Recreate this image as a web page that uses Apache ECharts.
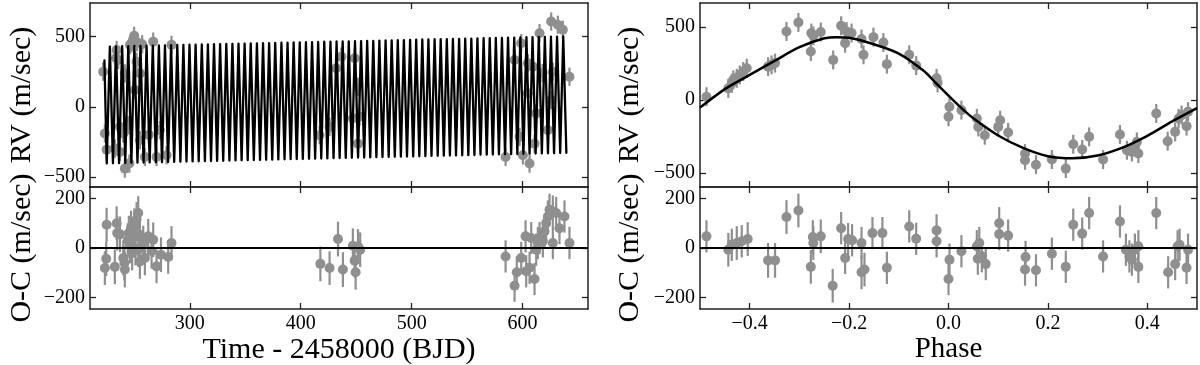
<!DOCTYPE html>
<html>
<head>
<meta charset="utf-8">
<title>RV fit</title>
<script src="https://cdn.jsdelivr.net/npm/echarts@6/dist/echarts.min.js"></script>
<style>
  html, body { margin: 0; padding: 0; background: #fff; }
  #main { width: 1200px; height: 365px; }
</style>
</head>
<body>
<div id="main"></div>
<script>
// ---- data ----
// RV vs time: [t, rv, err]
var rvTime = [
  [221.9, 250, 65], [223.4, -190, 65], [225.0, -305, 65], [232.4, -297, 65], [233.5, 348, 65],
  [234.0, 405, 65], [235.4, 333, 65], [237.0, -143, 65], [237.0, -321, 65], [240.0, -190, 65],
  [241.4, 238, 65], [241.4, -440, 65], [244.4, -131, 65], [245.5, -404, 65], [246.0, 440, 65],
  [247.5, 453, 65], [248.5, 470, 65], [249.8, 505, 65], [250.5, 119, 65], [252.0, 321, 65],
  [252.5, 460, 65], [255.0, 238, 65], [255.0, -238, 65], [257.0, 445, 65], [259.5, -357, 65],
  [263.0, -200, 65], [267.0, 464, 65], [270.0, -357, 65], [273.0, -166, 65], [279.0, -345, 65],
  [283.5, 441, 65],
  [417.0, -202, 65], [426.0, -143, 65], [432.0, 274, 65], [436.6, 357, 65], [447.0, -83, 65],
  [448.6, 346, 65], [451.6, 143, 65], [451.6, -262, 65], [453.0, -71, 65],
  [584.7, -357, 65], [592.8, 333, 65], [597.3, -214, 65], [598.8, 453, 65], [600.3, -345, 65],
  [604.8, 310, 65], [604.8, 96, 65], [606.3, -404, 65], [609.3, 286, 65], [610.8, -262, 65],
  [612.3, -47, 65], [615.3, 524, 65], [618.0, 240, 65], [622.8, -166, 65], [625.8, 48, 65],
  [625.8, 607, 65], [627.3, 250, 65], [631.8, 584, 65], [636.3, 548, 65], [642.3, 214, 65]
];
// O-C vs time: [t, res, err]
var ocTime = [
  [223.4, -81, 68], [224.6, -43, 70], [225.0, 94, 68], [232.4, -76, 70], [234.0, 100, 68],
  [234.5, 60, 70], [237.0, 55, 72], [240.0, -40, 70], [241.0, -60, 70], [241.4, -87, 72],
  [244.0, 30, 70], [245.0, 60, 70], [246.0, 10, 72], [247.0, 80, 70], [248.0, -20, 70],
  [249.0, 40, 72], [250.0, 90, 70], [251.0, 0, 70], [252.0, 115, 70], [253.5, 141, 68],
  [253.5, -7, 70], [255.0, 53, 70], [255.0, -54, 70], [258.0, 20, 70], [259.5, -40, 70],
  [262.5, 47, 70], [265.5, -13, 70], [267.0, 33, 70], [270.0, -74, 68], [274.0, -27, 70],
  [280.5, -36, 68], [283.5, 20, 68],
  [417.7, -64, 70], [426.0, -81, 68], [433.6, 36, 70], [438.0, -87, 70], [447.0, 9, 70],
  [448.6, -51, 68], [449.5, -98, 70], [451.6, 6, 70], [453.6, -7, 70],
  [584.7, -34, 65], [592.8, -152, 65], [594.8, -98, 65], [598.8, -40, 65], [602.7, 47, 65],
  [603.3, -94, 65], [606.3, -80, 65], [607.8, 40, 65], [610.8, -125, 65], [612.3, -7, 65],
  [613.8, 20, 65], [615.3, 40, 65], [618.3, 27, 65], [619.8, 67, 65], [621.3, 101, 65],
  [622.8, 127, 65], [624.3, 154, 65], [627.3, 147, 65], [627.3, 20, 65], [630.3, 141, 65],
  [633.3, 80, 65], [637.8, 127, 65], [642.3, 20, 65]
];
// model vs time: starting point, peaks and troughs
var modelStart = [223.0, 330];
var peakT = [227.9, 233.4, 239.0, 244.5, 250.0, 255.5, 261.0, 266.6, 272.1, 277.6,
  283.1, 288.7, 294.2, 299.7, 305.2, 310.8, 316.3, 321.8, 327.3, 332.9,
  338.4, 343.9, 349.4, 354.9, 360.5, 366.0, 371.5, 377.0, 382.6, 388.1,
  393.6, 399.1, 404.7, 410.2, 415.7, 421.2, 426.8, 432.3, 437.8, 443.3,
  448.9, 454.4, 459.9, 465.4, 470.9, 476.5, 482.0, 487.5, 493.0, 498.6,
  504.1, 509.6, 515.1, 520.7, 526.2, 531.7, 537.2, 542.8, 548.3, 553.8,
  559.3, 564.9, 570.4, 575.9, 581.4, 586.9, 592.5, 598.0, 603.5, 609.0,
  614.6, 620.1, 625.6, 631.1, 636.7];
var peakRV = [429, 430, 431, 432, 433, 434, 435, 436, 437, 438,
  439, 440, 441, 442, 443, 444, 445, 446, 446, 447,
  448, 449, 450, 451, 452, 453, 454, 455, 456, 457,
  458, 459, 460, 461, 462, 463, 464, 465, 465, 466,
  467, 468, 469, 470, 471, 472, 473, 474, 475, 476,
  478, 479, 480, 481, 482, 482, 483, 484, 485, 486,
  487, 488, 489, 490, 491, 492, 493, 494, 495, 496,
  497, 498, 499, 500, 501];
var troughT = [225.1, 230.7, 236.2, 241.8, 247.3, 252.8, 258.3, 263.8, 269.4, 274.9,
  280.4, 285.9, 291.5, 297.0, 302.5, 308.0, 313.6, 319.1, 324.6, 330.1,
  335.7, 341.2, 346.7, 352.2, 357.7, 363.3, 368.8, 374.3, 379.8, 385.4,
  390.9, 396.4, 401.9, 407.5, 413.0, 418.5, 424.0, 429.6, 435.1, 440.6,
  446.1, 451.7, 457.2, 462.7, 468.2, 473.7, 479.3, 484.8, 490.3, 495.8,
  501.4, 506.9, 512.4, 517.9, 523.5, 529.0, 534.5, 540.0, 545.6, 551.1,
  556.6, 562.1, 567.7, 573.2, 578.7, 584.2, 589.7, 595.3, 600.8, 606.3,
  611.8, 617.4, 622.9, 628.4, 633.9, 639.5];
var troughRV = [-403, -402, -401, -400, -399, -398, -397, -396, -395, -394,
  -393, -392, -391, -390, -389, -388, -387, -386, -385, -384,
  -383, -382, -381, -380, -379, -378, -377, -376, -375, -374,
  -373, -372, -371, -370, -369, -368, -367, -366, -365, -364,
  -363, -362, -361, -360, -359, -358, -357, -356, -355, -354,
  -353, -352, -351, -350, -349, -348, -347, -346, -345, -344,
  -343, -342, -341, -340, -339, -338, -337, -336, -335, -334,
  -333, -332, -331, -330, -329, -328];

// RV vs phase: [phase, rv, err]
var rvPhase = [
  [-0.487, 23, 65], [-0.443, 80, 65], [-0.436, 115, 65], [-0.433, 138, 65], [-0.426, 149, 65],
  [-0.420, 172, 65], [-0.413, 195, 65], [-0.406, 218, 65], [-0.363, 229, 65], [-0.356, 241, 65],
  [-0.349, 253, 65], [-0.326, 470, 65], [-0.302, 532, 65], [-0.277, 333, 65], [-0.276, 459, 65],
  [-0.272, 440, 65], [-0.257, 466, 65], [-0.232, 275, 65], [-0.216, 509, 65], [-0.208, 390, 65],
  [-0.205, 470, 65], [-0.195, 459, 65], [-0.175, 418, 65], [-0.171, 310, 65], [-0.151, 431, 65],
  [-0.131, 394, 65], [-0.124, 246, 65], [-0.079, 310, 65], [-0.065, 236, 65], [-0.024, 149, 65],
  [-0.022, 118, 65], [0.002, -46, 65], [0.000, -115, 65], [0.026, -69, 65], [0.057, -126, 65],
  [0.060, -184, 65], [0.073, -241, 65], [0.104, -138, 65], [0.100, -184, 65], [0.120, -222, 65],
  [0.154, -367, 65], [0.154, -413, 65], [0.176, -443, 65], [0.208, -408, 65], [0.236, -470, 65],
  [0.251, -303, 65], [0.269, -339, 65], [0.283, -252, 65], [0.311, -408, 65], [0.345, -236, 65],
  [0.359, -344, 65], [0.369, -356, 65], [0.375, -321, 65], [0.382, -367, 65], [0.379, -287, 65],
  [0.418, -92, 65], [0.441, -282, 65], [0.456, -218, 65], [0.463, -126, 65], [0.479, -179, 65],
  [0.482, -80, 65], [0.469, -103, 65]
];
// O-C vs phase: [phase, res, err]
var ocPhase = [
  [-0.487, 47, 65], [-0.443, -7, 68], [-0.436, 13, 65], [-0.426, 20, 68], [-0.416, 27, 65],
  [-0.404, 36, 68], [-0.363, -50, 70], [-0.349, -50, 70], [-0.326, 125, 68], [-0.302, 151, 68],
  [-0.277, -76, 68], [-0.273, 44, 68], [-0.272, 20, 68], [-0.257, 47, 68], [-0.233, -152, 68],
  [-0.216, 80, 65], [-0.208, -40, 65], [-0.202, 36, 65], [-0.194, 31, 65], [-0.175, 20, 65],
  [-0.175, -98, 68], [-0.169, -87, 68], [-0.153, 60, 65], [-0.133, 60, 65], [-0.124, -80, 65],
  [-0.079, 87, 65], [-0.065, 37, 65], [-0.024, 71, 65], [-0.024, 27, 65], [0.002, -47, 65],
  [0.000, -125, 65], [0.026, -13, 65], [0.057, 7, 65], [0.062, 20, 65], [0.059, -43, 65],
  [0.067, -33, 65], [0.075, -65, 65], [0.102, 100, 65], [0.102, 56, 65], [0.120, 50, 65],
  [0.155, -36, 65], [0.154, -87, 65], [0.176, -90, 65], [0.208, -23, 65], [0.236, -76, 65],
  [0.251, 94, 65], [0.269, 58, 65], [0.283, 141, 65], [0.311, -34, 65], [0.345, 107, 65],
  [0.357, -7, 65], [0.364, -34, 65], [0.369, -47, 65], [0.375, -7, 65], [0.382, 7, 65],
  [0.382, -76, 65], [0.418, 141, 65], [0.442, -98, 65], [0.456, -65, 65], [0.461, 7, 65],
  [0.465, 13, 65], [0.479, -80, 65], [0.482, -7, 65]
];
// model vs phase
var phaseModelX = [-0.5, -0.45, -0.4, -0.35, -0.3, -0.25, -0.225, -0.2, -0.15, -0.1, -0.05, -0.025,
  0, 0.025, 0.05, 0.1, 0.15, 0.2, 0.25, 0.3, 0.35, 0.4, 0.45, 0.5];
var phaseModelY = [-52, 75, 172, 268, 362, 423, 431, 427, 382, 318, 200, 115,
  30, -52, -125, -243, -328, -385, -399, -380, -326, -245, -146, -55];

// tick labels
var timeTicks = [300, 400, 500, 600];
var rvTicks = [-500, 0, 500];
var ocTicks = [-200, 0, 200];
var phaseTicks = [-0.4, -0.2, 0, 0.2, 0.4];

// ---- build ----
var FONT = "'Liberation Serif', 'DejaVu Serif', serif";
var GRAY = '#8f8f8f';
var FRAME = '#222';

var timeModel = [modelStart];
var modelPts = [];
for (var i = 0; i < peakT.length; i++) modelPts.push([peakT[i], peakRV[i]]);
for (var j = 0; j < troughT.length; j++) modelPts.push([troughT[j], troughRV[j]]);
modelPts.sort(function(a, b) { return a[0] - b[0]; });
timeModel = timeModel.concat(modelPts);

var phaseModel = [];
for (var k = 0; k < phaseModelX.length; k++) phaseModel.push([phaseModelX[k], phaseModelY[k]]);

function minusSign(s) { return String(s).replace('-', '\u2212'); }

function xAx(grid, pos, min, max, ticks, label, name, fmt, nameSize) {
  return {
    type: 'value', gridIndex: grid, position: pos, min: min, max: max,
    name: name || '', nameLocation: 'middle', nameGap: 26,
    nameTextStyle: { fontFamily: FONT, fontSize: nameSize || 29, color: '#000' },
    axisLine: { show: true, onZero: false, lineStyle: { color: FRAME, width: 1.5 } },
    axisTick: { show: true, inside: true, length: 6, customValues: ticks, lineStyle: { color: FRAME, width: 1.3 } },
    axisLabel: { show: label, customValues: ticks, margin: 5, fontFamily: FONT, fontSize: 20, color: '#000',
      formatter: fmt },
    splitLine: { show: false }
  };
}
function yAx(grid, pos, min, max, ticks, label, name, gap) {
  return {
    type: 'value', gridIndex: grid, position: pos, min: min, max: max,
    name: name || '', nameLocation: 'middle', nameGap: gap || 50,
    nameTextStyle: { fontFamily: FONT, fontSize: 30, color: '#000' },
    axisLine: { show: true, onZero: false, lineStyle: { color: FRAME, width: 1.5 } },
    axisTick: { show: true, inside: true, length: 6, customValues: ticks, lineStyle: { color: FRAME, width: 1.3 } },
    axisLabel: { show: label, customValues: ticks, margin: 5, fontFamily: FONT, fontSize: 20, color: '#000',
      formatter: function(v) { return minusSign(v); } },
    splitLine: { show: false }
  };
}

function errorBars(points, xi, yi) {
  return {
    type: 'custom', xAxisIndex: xi, yAxisIndex: yi, z: 2, silent: true, clip: true,
    data: points,
    encode: { x: 0, y: 1 },
    renderItem: function(params, api) {
      var lo = api.coord([api.value(0), api.value(1) - api.value(2)]);
      var hi = api.coord([api.value(0), api.value(1) + api.value(2)]);
      return { type: 'line', shape: { x1: lo[0], y1: lo[1], x2: hi[0], y2: hi[1] },
        style: { stroke: GRAY, lineWidth: 2.2 } };
    }
  };
}
function dots(points, xi, yi, zero) {
  var s = {
    type: 'scatter', xAxisIndex: xi, yAxisIndex: yi, z: 3, silent: true,
    data: points.map(function(p) { return [p[0], p[1]]; }),
    symbol: 'circle', symbolSize: 10,
    itemStyle: { color: GRAY, opacity: 1 }
  };
  if (zero) {
    s.markLine = { silent: true, symbol: 'none', label: { show: false },
      lineStyle: { color: '#000', width: 1.8, type: 'solid' },
      data: [{ yAxis: 0 }] };
  }
  return s;
}

var timeFmt = function(v) { return String(v); };
var phaseFmt = function(v) { return minusSign(v.toFixed(1)); };

var option = {
  animation: false,
  backgroundColor: '#fff',
  grid: [
    { left: 90, width: 498, top: 3, height: 184, outerBoundsMode: 'none', containLabel: false },
    { left: 90, width: 498, top: 187, height: 122, outerBoundsMode: 'none', containLabel: false },
    { left: 700, width: 497, top: 3, height: 184, outerBoundsMode: 'none', containLabel: false },
    { left: 700, width: 497, top: 187, height: 122, outerBoundsMode: 'none', containLabel: false }
  ],
  xAxis: [
    xAx(0, 'bottom', 210, 659, timeTicks, false),
    xAx(0, 'top', 210, 659, timeTicks, false),
    xAx(1, 'bottom', 210, 659, timeTicks, true, 'Time - 2458000 (BJD)', timeFmt, 30),
    xAx(1, 'top', 210, 659, timeTicks, false),
    xAx(2, 'bottom', -0.5, 0.5, phaseTicks, false),
    xAx(2, 'top', -0.5, 0.5, phaseTicks, false),
    xAx(3, 'bottom', -0.5, 0.5, phaseTicks, true, 'Phase', phaseFmt, 29),
    xAx(3, 'top', -0.5, 0.5, phaseTicks, false)
  ],
  yAxis: [
    yAx(0, 'left', -571, 739, rvTicks, true, 'RV (m/sec)', 53),
    yAx(0, 'right', -571, 739, rvTicks, false),
    yAx(1, 'left', -246, 246, ocTicks, true, 'O-C (m/sec)', 53),
    yAx(1, 'right', -246, 246, ocTicks, false),
    yAx(2, 'left', -596, 665, rvTicks, true, 'RV (m/sec)', 55),
    yAx(2, 'right', -596, 665, rvTicks, false),
    yAx(3, 'left', -246, 246, ocTicks, true, 'O-C (m/sec)', 55),
    yAx(3, 'right', -246, 246, ocTicks, false)
  ],
  series: [
    errorBars(rvTime, 0, 0),
    dots(rvTime, 0, 0),
    {
      type: 'line', xAxisIndex: 0, yAxisIndex: 0, z: 4, silent: true,
      data: timeModel, showSymbol: false, smooth: false,
      lineStyle: { color: '#000', width: 2.3, join: 'round', cap: 'round' }
    },
    errorBars(ocTime, 2, 2),
    dots(ocTime, 2, 2, true),
    errorBars(rvPhase, 4, 4),
    dots(rvPhase, 4, 4),
    {
      type: 'line', xAxisIndex: 4, yAxisIndex: 4, z: 4, silent: true,
      data: phaseModel, showSymbol: false, smooth: 0.3,
      lineStyle: { color: '#000', width: 2.5 }
    },
    errorBars(ocPhase, 6, 6),
    dots(ocPhase, 6, 6, true)
  ]
};

var chart = echarts.init(document.getElementById('main'));
chart.setOption(option);
</script>
</body>
</html>
